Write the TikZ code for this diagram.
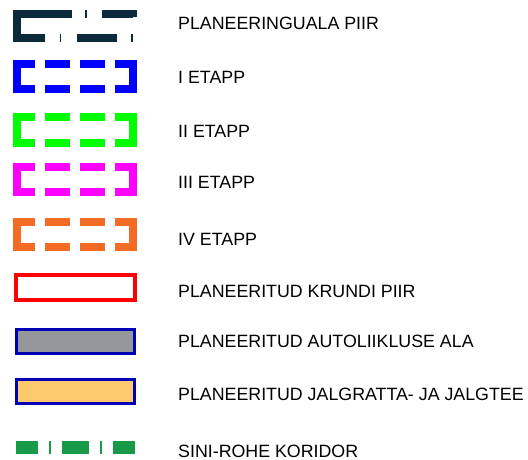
\documentclass[tikz,border=0pt]{standalone}
\usepackage{fontspec}
\setmainfont{Liberation Sans}
\usepackage{tikz}
\definecolor{piirdark}{HTML}{0B2B3B}
\definecolor{etappblue}{HTML}{0000FF}
\definecolor{etappgreen}{HTML}{00FF00}
\definecolor{etappmagenta}{HTML}{FF00FF}
\definecolor{etapporange}{HTML}{F36B24}
\definecolor{alablue}{HTML}{0000B4}
\definecolor{autogray}{HTML}{96979B}
\definecolor{teeyellow}{HTML}{FDCA6E}
\definecolor{koridorgreen}{HTML}{179B48}
\tikzset{
    legendtext/.style = {anchor=west, inner sep=0pt, font=\fontsize{17.8}{20}\selectfont},
    piir/.style = {draw=piirdark, line width=8pt, line join=miter,
        dash pattern=on 107pt off 13pt on 1.5pt off 15pt on 35pt off 21pt on 1.5pt off 14pt on 40pt off 16pt on 1.5pt off 14.5pt},
    etapp/.style = {draw=#1, line width=8pt, line join=miter,
        dash pattern=on 25pt off 10pt on 61pt off 10pt on 25pt off 10pt on 25pt off 10pt on 61pt off 10pt on 25pt off 10pt,
        dash phase=277pt},
    krunt/.style = {draw=red, line width=4pt},
    autoala/.style = {draw=alablue, line width=3pt, fill=autogray},
    teeala/.style = {draw=alablue, line width=3pt, fill=teeyellow},
    koridor/.style = {draw=koridorgreen, line width=13pt,
        dash pattern=on 22pt off 11pt on 2pt off 11pt on 27pt off 11pt on 2pt off 11pt on 22pt off 60pt}
}
\begin{document}
\begin{tikzpicture}[x=1pt,y=-1pt]
\useasboundingbox (0,0) rectangle (528,460);
%
\draw[piir] (45,38) -- (17,38) -- (17,14) -- (133,14) -- (133,38) -- cycle;
\foreach \yc/\col in {76.5/etappblue, 130/etappgreen, 179/etappmagenta, 234/etapporange}{
    \draw[etapp=\col] (75,\yc-12.5) -- (17,\yc-12.5) -- (17,\yc+12.5) -- (133,\yc+12.5) -- (133,\yc-12.5) -- cycle;
}
\draw[krunt] (16,275) rectangle (135,300);
\draw[autoala] (16.5,329.5) rectangle (134.5,353.5);
\draw[teeala] (16.5,379.5) rectangle (134.5,403.5);
\draw[koridor] (16,447.5) -- (135,447.5);
%
\node[legendtext] at (178,23) (planeering) {PLANEERINGUALA PIIR};
\node[legendtext] at (178,77.5) (etappI) {I ETAPP};
\node[legendtext] at (178,131) (etappII) {II ETAPP};
\node[legendtext] at (178,182.5) (etappIII) {III ETAPP};
\node[legendtext] at (178,239) (etappIV) {IV ETAPP};
\node[legendtext] at (178,291) (krunt) {PLANEERITUD KRUNDI PIIR};
\node[legendtext] at (178,341) (auto) {PLANEERITUD AUTOLIIKLUSE ALA};
\node[legendtext] at (178,394) (tee) {PLANEERITUD JALGRATTA- JA JALGTEE};
\node[legendtext] at (178,451) (koridor) {SINI-ROHE KORIDOR};

\end{tikzpicture}
\end{document}
